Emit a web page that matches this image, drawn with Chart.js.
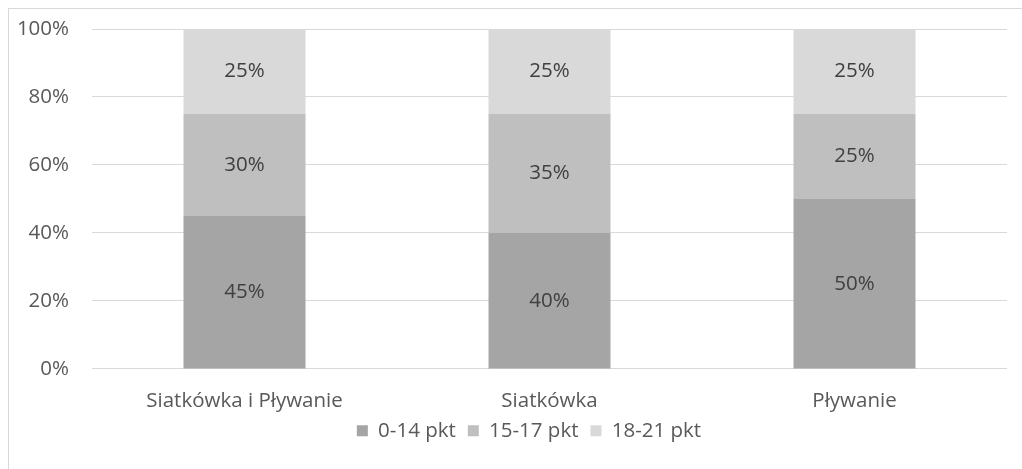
<!DOCTYPE html>
<html>
<head>
<meta charset="utf-8">
<script src="https://cdn.jsdelivr.net/npm/chart.js@4.4.1/dist/chart.umd.min.js"></script>
<style>
  html, body { margin: 0; padding: 0; background: #fff; overflow: hidden; }
  #box {
    position: absolute; left: 8px; top: 8px;
    width: 1040px; height: 480px;
    border: 1px solid #d9d9d9;
  }
  #wrap { position: absolute; left: 0; top: 0; width: 1013px; height: 460px; }
</style>
</head>
<body>
<div id="box"><div id="wrap"><canvas id="chart"></canvas></div></div>
<script>
const categories = ['Siatkówka i Pływanie', 'Siatkówka', 'Pływanie'];
const low = [45, 40, 50];      // 0-14 pkt
const mid = [30, 35, 25];      // 15-17 pkt
const high = [25, 25, 25];     // 18-21 pkt
const seriesNames = ['0-14 pkt', '15-17 pkt', '18-21 pkt'];
const seriesColors = ['#a5a5a5', '#bfbfbf', '#d9d9d9'];

const FONT = '"Open Sans", sans-serif';
const SIZE = 20.5;

// draws the value inside each bar segment
const barLabels = {
  id: 'barLabels',
  afterDatasetsDraw(chart) {
    const ctx = chart.ctx;
    ctx.save();
    ctx.fillStyle = '#404040';
    ctx.font = SIZE + 'px ' + FONT;
    ctx.textAlign = 'center';
    ctx.textBaseline = 'middle';
    chart.data.datasets.forEach((ds, i) => {
      chart.getDatasetMeta(i).data.forEach((bar, j) => {
        const y = (bar.y + bar.base) / 2;
        ctx.fillText(ds.data[j] + '%', bar.x, y);
      });
    });
    ctx.restore();
  }
};

// in the original the legend sits right of centre and close under the labels
const legendShift = {
  id: 'legendShift',
  afterLayout(chart) {
    const lg = chart.legend;
    lg.left += 21;
    lg.right += 21;
    lg.top -= 17;
    lg.bottom -= 17;
  }
};

new Chart(document.getElementById('chart'), {
  type: 'bar',
  data: {
    labels: categories,
    datasets: [low, mid, high].map((d, i) => ({
      label: seriesNames[i],
      data: d,
      backgroundColor: seriesColors[i],
      barPercentage: 0.4,
      categoryPercentage: 1
    }))
  },
  options: {
    responsive: true,
    maintainAspectRatio: false,
    animation: false,
    layout: { padding: { left: 0, right: 15, top: 20, bottom: 1 } },
    plugins: {
      tooltip: { enabled: false },
      legend: {
        position: 'bottom',
        labels: {
          boxWidth: 11, boxHeight: 11, padding: 12,
          color: '#595959',
          font: { family: FONT, size: SIZE }
        }
      }
    },
    scales: {
      x: {
        stacked: true,
        grid: { display: false },
        border: { display: false },
        ticks: { color: '#595959', font: { family: FONT, size: SIZE }, padding: 12 },
        afterFit: s => { s.paddingLeft = 0; s.paddingRight = 0; }
      },
      y: {
        stacked: true,
        min: 0, max: 100,
        grid: { color: '#d9d9d9', lineWidth: 1, drawTicks: false },
        border: { display: false },
        ticks: {
          stepSize: 20,
          padding: 23,
          color: '#595959',
          font: { family: FONT, size: SIZE },
          callback: v => v + '%'
        },
        afterFit: s => { s.width = 83; s.paddingTop = 0; s.paddingBottom = 0; }
      }
    }
  },
  plugins: [barLabels, legendShift]
});
</script>
</body>
</html>
